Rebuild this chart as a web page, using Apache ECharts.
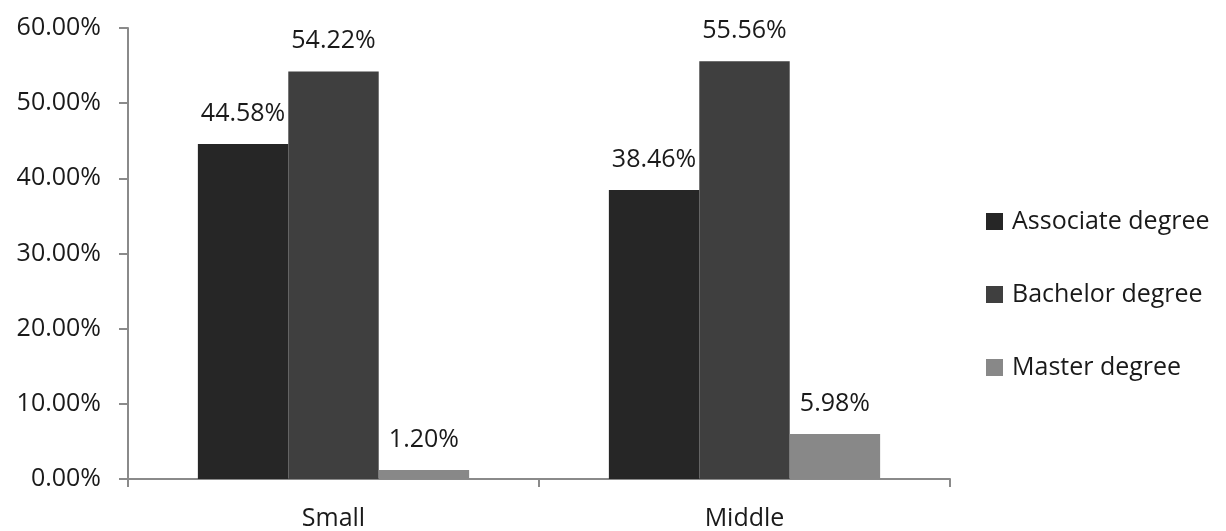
<!DOCTYPE html>
<html>
<head>
<meta charset="utf-8">
<script src="https://cdn.jsdelivr.net/npm/echarts@6/dist/echarts.min.js"></script>
<style>
  html, body { margin: 0; padding: 0; background: #fff; }
  #chart { width: 1226px; height: 531px; }
</style>
</head>
<body>
<div id="chart"></div>
<script>
// data
var categories = ['Small', 'Middle'];
var associate = [44.58, 38.46];
var bachelor = [54.22, 55.56];
var master = [1.20, 5.98];

var font = 'Open Sans';
var fontSize = 25;
var textColor = '#1a1a1a';
var axisColor = '#8a8a8a';

function pct(v) { return v.toFixed(2) + '%'; }

function barSeries(name, data, color) {
    return {
        name: name,
        type: 'bar',
        data: data,
        barGap: '0%',
        barCategoryGap: '34%',
        itemStyle: { color: color },
        label: {
            show: true,
            position: 'top',
            distance: 18,
            fontFamily: font,
            fontSize: fontSize,
            color: textColor,
            formatter: function (p) { return pct(p.value); }
        }
    };
}

var chart = echarts.init(document.getElementById('chart'));
var option = {
    animation: false,
    textStyle: { fontFamily: font },
    grid: { left: 128, right: 276, top: 28, bottom: 49, containLabel: false },
    legend: {
        orient: 'vertical',
        left: 986,
        top: 209,
        padding: 0,
        itemWidth: 17,
        itemHeight: 17,
        itemGap: 48,
        icon: 'rect',
        textStyle: { fontFamily: font, fontSize: fontSize, color: textColor, padding: [0, 0, 0, 4] },
        data: ['Associate degree', 'Bachelor degree', 'Master degree']
    },
    xAxis: {
        type: 'category',
        data: categories,
        axisLine: { lineStyle: { color: axisColor, width: 2 } },
        axisTick: { show: true, length: 8, lineStyle: { color: axisColor, width: 2 } },
        axisLabel: { fontFamily: font, fontSize: fontSize, color: textColor, margin: 27 }
    },
    yAxis: {
        type: 'value',
        min: 0,
        max: 60,
        interval: 10,
        splitLine: { show: false },
        axisLine: { show: true, lineStyle: { color: axisColor, width: 2 } },
        axisTick: { show: true, length: 9, lineStyle: { color: axisColor, width: 2 } },
        axisLabel: {
            fontFamily: font, fontSize: fontSize, color: textColor, margin: 27,
            formatter: function (v) { return pct(v); }
        }
    },
    series: [
        barSeries('Associate degree', associate, '#262626'),
        barSeries('Bachelor degree', bachelor, '#3f3f3f'),
        barSeries('Master degree', master, '#888888')
    ]
};
chart.setOption(option);
</script>
</body>
</html>
